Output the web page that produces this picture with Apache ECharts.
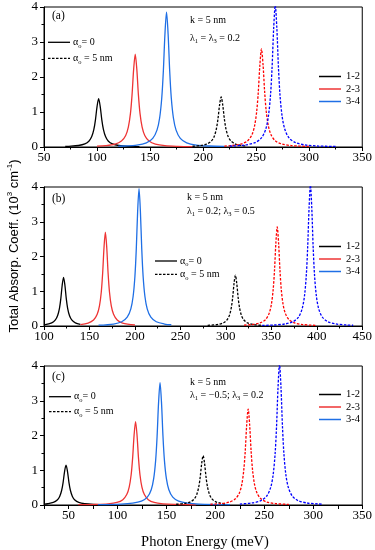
<!DOCTYPE html>
<html><head><meta charset="utf-8">
<script src="https://cdn.jsdelivr.net/npm/echarts@6/dist/echarts.min.js"></script>
<style>html,body{margin:0;padding:0;background:#fff}#c{width:375px;height:550px}</style>
</head><body><div id="c"></div>
<script>
// ---- data (x = photon energy meV, y = absorption 10^3 cm^-1) ----
// panel (a)
const a12s=[[70,0.016],[73.5,0.02],[82.5,0.043],[88.5,0.088],[92.5,0.173],[95,0.297],[97,0.501],[98.5,0.776],[100,1.155],[101.5,1.38],[103,1.155],[104.5,0.776],[106,0.501],[108,0.297],[110.5,0.173],[114.5,0.088],[120.5,0.043],[129.5,0.02],[140,0.011]];
const a23s=[[100,0.023],[108,0.038],[117,0.082],[123,0.17],[127,0.331],[129.5,0.57],[131.5,0.962],[133,1.489],[134.5,2.218],[136,2.65],[137.5,2.218],[139,1.489],[140.5,0.962],[142.5,0.57],[145,0.331],[149,0.17],[155,0.082],[164,0.038],[176,0.019],[190,0.01]];
const a34s=[[120,0.021],[125.5,0.028],[137.5,0.056],[146.5,0.119],[152.5,0.246],[156.5,0.481],[159,0.828],[161,1.398],[162.5,2.164],[164,3.222],[165.5,3.85],[167,3.222],[168.5,2.164],[170,1.398],[172,0.828],[174.5,0.481],[178.5,0.246],[184.5,0.119],[193.5,0.056],[205.5,0.028],[220,0.015]];
const a12d=[[190,0.022],[198,0.044],[204,0.092],[208,0.179],[210.5,0.307],[212.5,0.519],[214,0.804],[215.5,1.197],[217,1.43],[218.5,1.197],[220,0.804],[221.5,0.519],[223.5,0.307],[226,0.179],[230,0.092],[236,0.044],[240,0.031]];
const a23d=[[220,0.026],[227,0.041],[236,0.087],[242,0.179],[246,0.35],[248.5,0.602],[250.5,1.016],[252,1.574],[253.5,2.344],[255,2.8],[256.5,2.344],[258,1.574],[259.5,1.016],[261.5,0.602],[264,0.35],[268,0.179],[274,0.087],[283,0.041],[300,0.016]];
const a34d=[[225,0.025],[228,0.029],[240,0.059],[249,0.126],[255,0.259],[259,0.506],[261.5,0.871],[263.5,1.47],[265,2.276],[266.5,3.39],[268,4.05],[269.5,3.39],[271,2.276],[272.5,1.47],[274.5,0.871],[277,0.506],[281,0.259],[287,0.126],[296,0.059],[308,0.029],[325,0.014]];
// panel (b)
const b12s=[[100,0.034],[108.5,0.09],[112.5,0.175],[115,0.301],[117,0.508],[118.5,0.787],[120,1.172],[121.5,1.4],[123,1.172],[124.5,0.787],[126,0.508],[128,0.301],[130.5,0.175],[134.5,0.09],[140,0.046]];
const b23s=[[140,0.041],[148.5,0.084],[154.5,0.173],[158.5,0.338],[161,0.581],[163,0.98],[164.5,1.517],[166,2.26],[167.5,2.7],[169,2.26],[170.5,1.517],[172,0.98],[174,0.581],[176.5,0.338],[180.5,0.173],[186.5,0.084],[200,0.029]];
const b34s=[[160,0.023],[176.5,0.057],[185.5,0.122],[191.5,0.253],[195.5,0.494],[198,0.849],[200,1.434],[201.5,2.22],[203,3.306],[204.5,3.95],[206,3.306],[207.5,2.22],[209,1.434],[211,0.849],[213.5,0.494],[217.5,0.253],[223.5,0.122],[232.5,0.057],[240,0.036]];
const b12d=[[280,0.018],[291.5,0.045],[297.5,0.093],[301.5,0.183],[304,0.314],[306,0.53],[307.5,0.821],[309,1.222],[310.5,1.46],[312,1.222],[313.5,0.821],[315,0.53],[317,0.314],[319.5,0.183],[323.5,0.093],[329.5,0.045],[340,0.019]];
const b23d=[[320,0.025],[328.5,0.041],[337.5,0.088],[343.5,0.182],[347.5,0.356],[350,0.613],[352,1.035],[353.5,1.602],[355,2.385],[356.5,2.85],[358,2.385],[359.5,1.602],[361,1.035],[363,0.613],[365.5,0.356],[369.5,0.182],[375.5,0.088],[384.5,0.041],[400,0.017]];
const b34d=[[340,0.017],[353,0.029],[365,0.059],[374,0.126],[380,0.259],[384,0.506],[386.5,0.871],[388.5,1.47],[390,2.276],[391.5,3.39],[393,4.05],[394.5,3.39],[396,2.276],[397.5,1.47],[399.5,0.871],[402,0.506],[406,0.259],[412,0.126],[421,0.059],[433,0.029],[440,0.021]];
// panel (c)
const c12s=[[25,0.026],[28.5,0.036],[34.5,0.074],[38.5,0.144],[41,0.247],[43,0.417],[44.5,0.646],[46,0.963],[47.5,1.15],[49,0.963],[50.5,0.646],[52,0.417],[54,0.247],[56.5,0.144],[60.5,0.074],[66.5,0.036],[75.5,0.017],[90,0.007]];
const c23s=[[60,0.008],[78.5,0.017],[90.5,0.035],[99.5,0.074],[105.5,0.154],[109.5,0.3],[112,0.516],[114,0.871],[115.5,1.349],[117,2.009],[118.5,2.4],[120,2.009],[121.5,1.349],[123,0.871],[125,0.516],[127.5,0.3],[131.5,0.154],[137.5,0.074],[146.5,0.035],[158.5,0.017],[180,0.007]];
const c34s=[[80,0.01],[103.5,0.025],[115.5,0.051],[124.5,0.109],[130.5,0.225],[134.5,0.44],[137,0.757],[139,1.278],[140.5,1.978],[142,2.946],[143.5,3.52],[145,2.946],[146.5,1.978],[148,1.278],[150,0.757],[152.5,0.44],[156.5,0.225],[162.5,0.109],[171.5,0.051],[183.5,0.025],[215,0.008]];
const c12d=[[160,0.021],[168.5,0.044],[174.5,0.091],[178.5,0.178],[181,0.305],[183,0.515],[184.5,0.798],[186,1.189],[187.5,1.42],[189,1.189],[190.5,0.798],[192,0.515],[194,0.305],[196.5,0.178],[200.5,0.091],[206.5,0.044],[210,0.032]];
const c23d=[[195,0.021],[205.5,0.04],[214.5,0.086],[220.5,0.177],[224.5,0.345],[227,0.593],[229,1.002],[230.5,1.551],[232,2.31],[233.5,2.76],[235,2.31],[236.5,1.551],[238,1.002],[240,0.593],[242.5,0.345],[246.5,0.177],[252.5,0.086],[261.5,0.04],[275,0.018]];
const c34d=[[225,0.028],[237.5,0.059],[246.5,0.126],[252.5,0.259],[256.5,0.506],[259,0.871],[261,1.47],[262.5,2.276],[264,3.39],[265.5,4.05],[267,3.39],[268.5,2.276],[270,1.47],[272,0.871],[274.5,0.506],[278.5,0.259],[284.5,0.126],[293.5,0.059],[305.5,0.029],[310,0.024]];

const transitions=['1-2','2-3','3-4'];
const panelLabels=['(a)','(b)','(c)'];
const xMin=[50,100,25], xMax=[350,450,350], xStep=[50,50,25];
const yMin=0, yMax=4, yStep=1;
const lambdaTexts=[
  '{n|λ}{s|1}{n| = λ}{s|3}{n| = 0.2}',
  '{n|λ}{s|1}{n| = 0.2; λ}{s|3}{n| = 0.5}',
  '{n|λ}{s|1}{n| = \u22120.5; λ}{s|3}{n| = 0.2}'
];

const panels=[
  {solid:[a12s,a23s,a34s],dash:[a12d,a23d,a34d]},
  {solid:[b12s,b23s,b34s],dash:[b12d,b23d,b34d]},
  {solid:[c12s,c23s,c34s],dash:[c12d,c23d,c34d]}
];
const solidColors=['#000000','#ee3434','#1f6fe5'];
const dashColors=['#000000','#ff0000','#0000ff'];
const SERIF='"Liberation Serif","Times New Roman",serif';
const SANS='"Liberation Sans",Arial,sans-serif';

const gridTop=[7,187,366], gridH=[140,139,139];
const grids=[],xAxes=[],yAxes=[],series=[],legends=[],graphics=[];
const legTop=[71,241,389];
const alphaPos=[[48,42.3,58.3],[155,261,274.3],[49,396.7,411.7]];
const textPos=[[52,16,190,20,190,38],[52,199,187,197.7,187,211],[52,377,190,382.3,190,395]];
const rich={
  n:{fontFamily:SERIF,fontSize:10,color:'#000',lineHeight:14,verticalAlign:'middle'},
  s:{fontFamily:SERIF,fontSize:6.5,color:'#000',lineHeight:8,verticalAlign:'bottom'}
};
for(let p=0;p<3;p++){
  grids.push({left:44,right:11,top:gridTop[p],height:gridH[p],show:true,borderColor:'#000',borderWidth:1,containLabel:false});
  xAxes.push({type:'value',gridIndex:p,min:xMin[p],max:xMax[p],interval:xStep[p],
    axisLine:{show:true,lineStyle:{color:'#000',width:1}},
    axisTick:{show:true,inside:false,length:4,lineStyle:{color:'#000'}},
    minorTick:{show:p<2,splitNumber:2,length:2.5,lineStyle:{color:'#000'}},
    splitLine:{show:false},
    axisLabel:{color:'#000',fontFamily:SERIF,fontSize:13,margin:4,
      formatter:(v)=> (v%50===0? String(v):'')}
  });
  yAxes.push({type:'value',gridIndex:p,min:yMin,max:yMax,interval:yStep,
    axisLine:{show:true,lineStyle:{color:'#000',width:1}},
    axisTick:{show:true,inside:false,length:4,lineStyle:{color:'#000'}},
    minorTick:{show:true,splitNumber:2,length:2.5,lineStyle:{color:'#000'}},
    splitLine:{show:false},
    axisLabel:{color:'#000',fontFamily:SERIF,fontSize:13,margin:6}
  });
  for(let k=0;k<3;k++){
    series.push({type:'line',name:transitions[k],xAxisIndex:p,yAxisIndex:p,data:panels[p].solid[k],
      symbol:'none',smooth:0.3,lineStyle:{color:solidColors[k],width:1.3},itemStyle:{color:solidColors[k]},z:2});
  }
  for(let k=0;k<3;k++){
    series.push({type:'line',name:transitions[k],xAxisIndex:p,yAxisIndex:p,data:panels[p].dash[k],
      symbol:'none',smooth:0.3,lineStyle:{color:dashColors[k],width:1.3,type:[2.5,1.5]},itemStyle:{color:dashColors[k]},z:2});
  }
  legends.push({data:transitions,orient:'vertical',left:319,top:legTop[p],icon:'rect',itemWidth:22,itemHeight:1.5,itemGap:1.5,
    padding:0,selectedMode:false,textStyle:{fontFamily:SERIF,fontSize:10.5,color:'#000',lineHeight:11}});
  // alpha legend
  const [ax,ay1,ay2]=alphaPos[p];
  graphics.push({type:'line',shape:{x1:ax,y1:ay1,x2:ax+22,y2:ay1},style:{stroke:'#000',lineWidth:1.3}});
  graphics.push({type:'line',shape:{x1:ax,y1:ay2,x2:ax+22,y2:ay2},style:{stroke:'#000',lineWidth:1.3,lineDash:[2.5,1.5]}});
  graphics.push({type:'text',x:ax+25,y:ay1,style:{text:'{n|α}{s|o}{n|= 0}',rich:rich,align:'left',verticalAlign:'middle',textAlign:'left',textVerticalAlign:'middle'}});
  graphics.push({type:'text',x:ax+25,y:ay2,style:{text:'{n|α}{s|o}{n| = 5 nm}',rich:rich,align:'left',verticalAlign:'middle',textAlign:'left',textVerticalAlign:'middle'}});
  const t=textPos[p];
  graphics.push({type:'text',x:t[0],y:t[1],style:{text:panelLabels[p],fontFamily:SERIF,fontSize:11.5,fill:'#000',align:'left',verticalAlign:'middle',textAlign:'left',textVerticalAlign:'middle'}});
  graphics.push({type:'text',x:t[2],y:t[3],style:{text:'{n|k = 5 nm}',rich:rich,align:'left',verticalAlign:'middle',textAlign:'left',textVerticalAlign:'middle'}});
  graphics.push({type:'text',x:t[4],y:t[5],style:{text:lambdaTexts[p],rich:rich,align:'left',verticalAlign:'middle',textAlign:'left',textVerticalAlign:'middle'}});
}
// axis titles
graphics.push({type:'text',x:14,y:246,rotation:Math.PI/2,style:{
  text:'{t|Total Absorp. Coeff. (10}{p|3}{t| cm}{p|-1}{t|)}',
  rich:{t:{fontFamily:SANS,fontSize:13,color:'#000',lineHeight:16,verticalAlign:'middle'},
        p:{fontFamily:SANS,fontSize:8,color:'#000',lineHeight:8,verticalAlign:'top'}},
  align:'center',verticalAlign:'middle',textAlign:'center',textVerticalAlign:'middle'}});
graphics.push({type:'text',x:205,y:542,style:{text:'Photon Energy (meV)',fontFamily:SERIF,fontSize:14.5,fill:'#000',
  align:'center',verticalAlign:'middle',textAlign:'center',textVerticalAlign:'middle'}});

const chart=echarts.init(document.getElementById('c'),null,{renderer:'canvas'});
chart.setOption({
  animation:false,backgroundColor:'#fff',
  grid:grids,xAxis:xAxes,yAxis:yAxes,series:series,legend:legends,
  graphic:{elements:graphics}
});
</script></body></html>
